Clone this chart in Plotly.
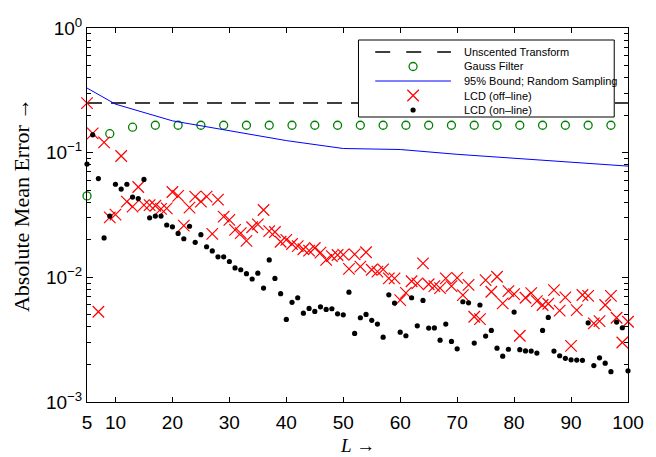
import plotly.graph_objects as go

# ---------------- data ----------------
L_values = list(range(5, 101))

lcd_offline = [
    0.25, 0.143, 0.0053, 0.121, 0.0303, 0.0318, 0.094, 0.0405, 0.0369, 0.053,
    0.0379, 0.038, 0.0375, 0.0354, 0.0357, 0.0484, 0.045, 0.026, 0.0362, 0.0444,
    0.0405, 0.0444, 0.0223, 0.042, 0.0307, 0.0289, 0.024, 0.0226, 0.0196, 0.0252,
    0.0266, 0.0347, 0.0235, 0.0231, 0.0193, 0.020, 0.0185, 0.0178, 0.0168, 0.0164,
    0.0172, 0.0158, 0.0138, 0.0148, 0.0151, 0.0152, 0.0117, 0.0153, 0.0122, 0.0159,
    0.0115, 0.0111, 0.0116, 0.0098, 0.0098, 0.00657, 0.0075, 0.0093, 0.00895, 0.01295,
    0.0088, 0.0085, 0.0082, 0.0098, 0.0085, 0.0099, 0.0072, 0.0087, 0.00483, 0.00462,
    0.0095, 0.00766, 0.0101, 0.00618, 0.00776, 0.00734, 0.0034, 0.00686, 0.00748, 0.00645,
    0.006, 0.00614, 0.0079, 0.0054, 0.0069, 0.00282, 0.00546, 0.00721, 0.00711, 0.00427,
    0.00446, 0.006, 0.00711, 0.00474, 0.003, 0.0044,
]

lcd_online = [
    0.081, 0.139, 0.062, 0.0207, 0.031, 0.0558, 0.051, 0.0558, 0.044, 0.0428,
    0.061, 0.030, 0.031, 0.031, 0.0263, 0.0254, 0.0225, 0.0204, 0.0257, 0.0191,
    0.022, 0.0176, 0.0163, 0.0146, 0.0146, 0.0134, 0.0119, 0.0115, 0.0107, 0.0097,
    0.0108, 0.0082, 0.0138, 0.0098, 0.0074, 0.0046, 0.0063, 0.00686, 0.00516, 0.00563,
    0.00533, 0.0058, 0.00553, 0.0056, 0.0051, 0.0050, 0.0076, 0.00355, 0.00474, 0.00504,
    0.00452, 0.00422, 0.00331, 0.00724, 0.00622, 0.00363, 0.0034, 0.00686, 0.00408, 0.00653,
    0.00392, 0.00393, 0.00313, 0.00422, 0.00306, 0.00267, 0.00637, 0.00625, 0.00297, 0.006,
    0.00338, 0.00375, 0.0027, 0.00233, 0.00265, 0.00526, 0.00263, 0.00257, 0.00256, 0.00247,
    0.00375, 0.00477, 0.00256, 0.00235, 0.00224, 0.00218, 0.00217, 0.00216, 0.00432, 0.00196,
    0.00226, 0.00205, 0.00175, 0.00438, 0.00394, 0.00178,
]

gauss_L = list(range(5, 98, 4))
gauss_err = [0.045, 0.142, 0.16, 0.166, 0.166, 0.166, 0.166, 0.166, 0.166, 0.166,
             0.166, 0.166, 0.166, 0.166, 0.166, 0.166, 0.166, 0.166, 0.166, 0.166,
             0.166, 0.166, 0.166, 0.166]

bound_L = [5, 10, 20, 30, 40, 50, 60, 70, 80, 90, 100]
bound_err = [0.33, 0.245, 0.18, 0.15, 0.125, 0.108, 0.106, 0.097, 0.09, 0.084, 0.078]

ut_L = [5, 100]
ut_err = [0.25, 0.25]

legend_labels = ["Unscented Transform", "Gauss Filter", "95% Bound; Random Sampling",
                 "LCD (off\u2013line)", "LCD (on\u2013line)"]

x_tickvals = [5, 10, 20, 30, 40, 50, 60, 70, 80, 90, 100]
y_tickvals = [1e-3, 1e-2, 1e-1, 1]
y_ticktext = ["10<sup>\u22123</sup>", "10<sup>\u22122</sup>", "10<sup>\u22121</sup>", "10<sup>0</sup>"]
y_minorvals = [m * d for d in (1e-3, 1e-2, 1e-1) for m in range(2, 10)]

# ---------------- geometry ----------------
W, H = 656, 457
LM, RM, TM, BM = 87, 19, 28, 55
PW, PH = W - LM - RM, H - TM - BM


def fx(px):
    return (px - LM) / PW


def fy(py):
    return (H - BM - py) / PH


SANS = "Liberation Sans, Arial, sans-serif"
SERIF = "Liberation Serif, Times New Roman, serif"

fig = go.Figure()

fig.add_trace(go.Scatter(x=ut_L, y=ut_err, mode="lines",
                         line=dict(color="black", width=1.5, dash="15px,9px")))
fig.add_trace(go.Scatter(x=gauss_L, y=gauss_err, mode="markers", cliponaxis=False,
                         marker=dict(symbol="circle-open", size=8, color="#008000",
                                     line=dict(width=1.3, color="#008000"))))
fig.add_trace(go.Scatter(x=bound_L, y=bound_err, mode="lines",
                         line=dict(color="#0000ff", width=1)))
fig.add_trace(go.Scatter(x=L_values, y=lcd_offline, mode="markers", cliponaxis=False,
                         marker=dict(symbol="x-thin-open", size=11.5, color="#ff0000",
                                     line=dict(width=1.2, color="#ff0000"))))
fig.add_trace(go.Scatter(x=L_values, y=lcd_online, mode="markers", cliponaxis=False,
                         marker=dict(symbol="circle", size=5.2, color="black")))

# ---------------- legend (overlay axes in plot-fraction units) ----------------
bx0, bx1, by0, by1 = fx(363), fx(623), fy(117), fy(40)
fig.add_trace(go.Scatter(x=[bx0, bx1, bx1, bx0, bx0], y=[by0, by0, by1, by1, by0],
                         xaxis="x2", yaxis="y2", mode="lines", fill="toself",
                         fillcolor="white", line=dict(color="black", width=1),
                         hoverinfo="skip", cliponaxis=False))
row_py = [52, 66.5, 81, 95.5, 110]
sx0, sx1, sxm = fx(380), fx(457), fx(418.5)
fig.add_trace(go.Scatter(x=[sx0, sx1], y=[fy(row_py[0])] * 2, xaxis="x2", yaxis="y2",
                         mode="lines", line=dict(color="black", width=1.5, dash="15px,16px"),
                         hoverinfo="skip"))
fig.add_trace(go.Scatter(x=[sxm], y=[fy(row_py[1])], xaxis="x2", yaxis="y2", mode="markers",
                         marker=dict(symbol="circle-open", size=8, color="#008000",
                                     line=dict(width=1.3, color="#008000")), hoverinfo="skip"))
fig.add_trace(go.Scatter(x=[sx0, sx1], y=[fy(row_py[2])] * 2, xaxis="x2", yaxis="y2",
                         mode="lines", line=dict(color="#0000ff", width=1), hoverinfo="skip"))
fig.add_trace(go.Scatter(x=[sxm], y=[fy(row_py[3])], xaxis="x2", yaxis="y2", mode="markers",
                         marker=dict(symbol="x-thin-open", size=11.5, color="#ff0000",
                                     line=dict(width=1.2, color="#ff0000")), hoverinfo="skip"))
fig.add_trace(go.Scatter(x=[sxm], y=[fy(row_py[4])], xaxis="x2", yaxis="y2", mode="markers",
                         marker=dict(symbol="circle", size=5.2, color="black"), hoverinfo="skip"))

annotations = []
for lab, py in zip(legend_labels, row_py):
    annotations.append(dict(text=lab, xref="paper", yref="paper", x=fx(468), y=fy(py),
                            xanchor="left", yanchor="middle", showarrow=False,
                            font=dict(family=SANS, size=11, color="black")))
annotations.append(dict(text="Absolute Mean Error \u2192", xref="paper", yref="paper",
                        x=fx(20), y=fy(205), xanchor="center", yanchor="middle",
                        textangle=-90, showarrow=False,
                        font=dict(family=SERIF, size=22, color="black")))
annotations.append(dict(text="<i>L</i> \u2192", xref="paper", yref="paper",
                        x=fx(362), y=fy(445), xanchor="center", yanchor="middle",
                        showarrow=False, font=dict(family=SERIF, size=19, color="black")))

fig.update_layout(
    width=W, height=H,
    margin=dict(l=LM, r=RM, t=TM, b=BM, pad=0),
    paper_bgcolor="white", plot_bgcolor="white",
    showlegend=False,
    annotations=annotations,
    xaxis=dict(range=[5, 100], tickmode="array", tickvals=x_tickvals,
               ticks="inside", ticklen=5, tickwidth=1, tickcolor="black",
               showline=True, linecolor="black", linewidth=1, mirror="allticks",
               showgrid=False, zeroline=False, ticklabelstandoff=3,
               tickfont=dict(family=SANS, size=19, color="black")),
    yaxis=dict(type="log", range=[-3, 0], tickmode="array", tickvals=y_tickvals,
               ticktext=y_ticktext, ticks="inside", ticklen=6, tickwidth=1,
               tickcolor="black", showline=True, linecolor="black", linewidth=1,
               mirror="allticks", showgrid=False, zeroline=False,
               minor=dict(tickmode="array", tickvals=y_minorvals, ticks="inside",
                          ticklen=4, tickcolor="black", showgrid=False),
               tickfont=dict(family=SANS, size=19, color="black")),
    xaxis2=dict(overlaying="x", range=[0, 1], visible=False, fixedrange=True),
    yaxis2=dict(overlaying="y", range=[0, 1], visible=False, fixedrange=True),
)

fig.write_html("out.html", config={"displayModeBar": False})

# remove the browser's default page margin so the figure sits at the window origin
with open("out.html", "r", encoding="utf-8") as f:
    html = f.read()
html = html.replace("<body>", '<body style="margin:0;padding:0;overflow:hidden">', 1)
with open("out.html", "w", encoding="utf-8") as f:
    f.write(html)
